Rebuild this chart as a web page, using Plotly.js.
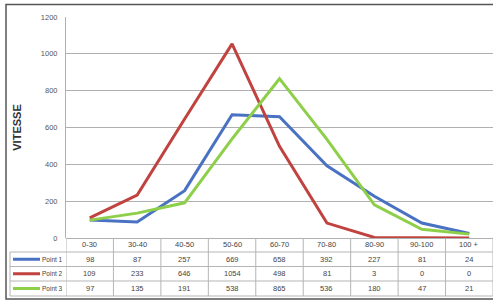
<!DOCTYPE html>
<html>
<head>
<meta charset="utf-8">
<script src="https://cdn.plot.ly/plotly-3.0.1.min.js"></script>
<style>html,body{margin:0;padding:0;background:#fff;}#chart{width:493px;height:301px;}</style>
</head>
<body>
<div id="chart"></div>
<script>
const categories = ["0-30","30-40","40-50","50-60","60-70","70-80","80-90","90-100","100 +"];
const seriesNames = ["Point 1","Point 2","Point 3"];
const point1 = [98, 87, 257, 669, 658, 392, 227, 81, 24];
const point2 = [109, 233, 646, 1054, 498, 81, 3, 0, 0];
const point3 = [97, 135, 191, 538, 865, 536, 180, 47, 21];
const yTicks = [0, 200, 400, 600, 800, 1000, 1200];
const colors = ["#4A72C2", "#C0433F", "#8ECF4A"];

const W = 493, H = 301;
const L = 66, R = 0, T = 17, B = 63;
const pw = W - L - R, ph = H - T - B;
const px = v => (v - L) / pw;          // pixel x -> paper x
const py = v => (H - B - v) / ph;      // pixel y -> paper y

const series = [point1, point2, point3];
const traces = series.map((vals, i) => ({
  type: "scatter", mode: "lines", x: categories, y: vals, name: seriesNames[i],
  line: {color: colors[i], width: 3}, hoverinfo: "skip"
}));

const rowTop = 238, rowH = [14, 14.5, 14.5, 15];
const rowEdges = [rowTop];
rowH.forEach(h => rowEdges.push(rowEdges[rowEdges.length - 1] + h));
const tableLeft = 10;
const lineCol = "#b5b5b5";
const fnt = {size: 7.5, color: "#444", family: "Liberation Sans, Arial"};

const shapes = [];
const annotations = [];
for (let k = 0; k <= categories.length; k++) {
  shapes.push({type: "line", xref: "x", yref: "paper", x0: k - 0.5, x1: k - 0.5,
    y0: py(rowEdges[0]), y1: py(rowEdges[4]), line: {color: lineCol, width: 1}});
}
shapes.push({type: "line", xref: "paper", yref: "paper", x0: px(tableLeft), x1: px(tableLeft),
  y0: py(rowEdges[1]), y1: py(rowEdges[4]), line: {color: lineCol, width: 1}});
for (let r = 1; r <= 4; r++) {
  shapes.push({type: "line", xref: "paper", yref: "paper", x0: px(tableLeft), x1: 1,
    y0: py(rowEdges[r]), y1: py(rowEdges[r]), line: {color: lineCol, width: 1}});
}
shapes.push({type: "rect", xref: "paper", yref: "paper", x0: px(6), x1: px(499),
  y0: py(299), y1: py(4.5), line: {color: "#555", width: 1.5}, layer: "above"});

categories.forEach((c, j) => {
  annotations.push({xref: "x", yref: "paper", x: j, y: py((rowEdges[0] + rowEdges[1]) / 2),
    xanchor: "center", yanchor: "middle", text: c, showarrow: false, font: fnt});
});
series.forEach((vals, i) => {
  const yc = py((rowEdges[i + 1] + rowEdges[i + 2]) / 2);
  vals.forEach((v, j) => {
    annotations.push({xref: "x", yref: "paper", x: j, y: yc, xanchor: "center", yanchor: "middle",
      text: String(v), showarrow: false, font: fnt});
  });
  shapes.push({type: "line", xref: "paper", yref: "paper", x0: px(13), x1: px(40), y0: yc, y1: yc,
    line: {color: colors[i], width: 3}});
  annotations.push({xref: "paper", yref: "paper", x: px(65), y: yc, xanchor: "right", yanchor: "middle",
    text: seriesNames[i], showarrow: false, font: {size: 6.5, color: "#444", family: "Liberation Sans, Arial"}});
});

const layout = {
  width: W, height: H,
  margin: {l: L, r: R, t: T, b: B},
  paper_bgcolor: "#fff", plot_bgcolor: "#fff",
  showlegend: false,
  xaxis: {type: "category", range: [-0.5, categories.length - 0.5], showticklabels: false,
    showgrid: false, zeroline: false, showline: false, fixedrange: true},
  yaxis: {range: [0, 1200], tickvals: yTicks, ticktext: yTicks.map(String), showgrid: true,
    gridcolor: "#b0b0b0", gridwidth: 1, zeroline: true, zerolinecolor: "#b0b0b0",
    showline: true, linecolor: "#b0b0b0", ticks: "", ticklabelstandoff: 6,
    tickfont: {size: 7.5, color: "#555", family: "Liberation Sans, Arial"},
    title: {text: "<b>VITESSE</b>", standoff: 16, font: {size: 11, color: "#333", family: "Liberation Sans, Arial"}},
    fixedrange: true},
  shapes: shapes,
  annotations: annotations
};

Plotly.newPlot("chart", traces, layout, {displayModeBar: false, staticPlot: true});
</script>
</body>
</html>
